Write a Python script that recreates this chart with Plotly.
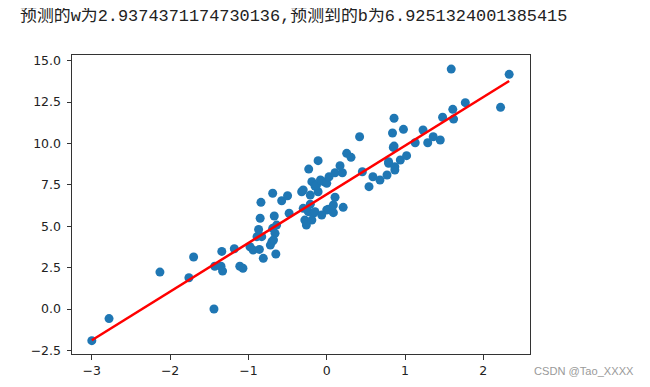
import plotly.graph_objects as go

# Fitted parameters (shown in the title)
w = 2.9374371174730136
b = 6.9251324001385415

# Scatter data
x_data = [-3.0, -2.78, -2.13, -1.76, -1.70, -1.44, -1.43, -1.35, -1.33, -1.34,
          -1.18, -1.11, -1.07, -0.98, -0.94, -0.86, -0.81, -0.65, -0.72, -0.70,
          -0.66, -0.89, -0.83, -0.87, -0.69, -0.68, -0.85, -0.67, -0.84, -0.69,
          -0.575, -0.50, -0.48, -0.64,
          -0.32, -0.30, -0.30, -0.235, -0.28, -0.26, -0.23, -0.11, -0.19, -0.15,
          -0.04, -0.11, -0.21, -0.21, -0.17, -0.19, -0.15, 0.0, 0.02, -0.064,
          0.085, 0.085, 0.106, 0.21, -0.13, -0.08, 0.0, 0.03, 0.106, 0.20,
          0.17, 0.255, 0.31, 0.42, 0.455, 0.54, 0.59, 0.68, 0.77, 0.79,
          0.87, 0.79, 0.87, 0.94, 1.02, 0.85, 0.86, 0.84, 0.86, 0.98,
          1.13, 1.23, 1.29, 1.36, 1.45, 1.48, 1.61, 1.62, 1.59, 1.77,
          2.22, 2.33]
y_data = [-1.91, -0.58, 2.23, 1.89, 3.14, 0.0, 2.58, 2.58, 2.29, 3.48,
          3.64, 2.58, 2.46, 3.76, 3.56, 3.6, 3.06, 3.32, 3.86, 4.06,
          4.57, 4.37, 4.37, 4.8, 4.87, 4.17, 5.48, 5.62, 6.44, 6.99,
          6.54, 6.84, 5.78, 5.07,
          7.08, 7.19, 6.08, 5.88, 5.37, 5.07, 8.45, 8.96, 7.69, 7.43,
          7.69, 7.08, 6.88, 6.33, 5.78, 5.37, 5.88, 5.98, 6.02, 5.68,
          5.82, 6.28, 6.75, 6.14, 7.49, 7.79, 7.59, 7.99, 8.23, 8.23,
          8.65, 9.40, 9.16, 10.40, 8.29, 7.39, 7.99, 7.79, 8.09, 8.80,
          8.39, 8.90, 8.59, 9.0, 9.26, 9.76, 9.84, 10.63, 11.52, 10.85,
          10.04, 10.81, 10.04, 10.40, 10.21, 11.58, 12.06, 11.47, 14.49, 12.46,
          12.18, 14.17]

x_ticks = [-3, -2, -1, 0, 1, 2]
x_tick_text = ["\u22123", "\u22122", "\u22121", "0", "1", "2"]
y_ticks = [-2.5, 0.0, 2.5, 5.0, 7.5, 10.0, 12.5, 15.0]
y_tick_text = ["\u22122.5", "0.0", "2.5", "5.0", "7.5", "10.0", "12.5", "15.0"]

title_text = "预测的w为2.9374371174730136,预测到的b为6.9251324001385415"
watermark = "CSDN @Tao_XXXX"

x_line = sorted(x_data)
y_line = [w * v + b for v in x_line]

fig = go.Figure()
fig.add_trace(go.Scatter(
    x=x_data, y=y_data, mode="markers",
    marker=dict(color="#1f77b4", size=9, line=dict(width=0)),
    showlegend=False, hoverinfo="skip"))
fig.add_trace(go.Scatter(
    x=x_line, y=y_line, mode="lines",
    line=dict(color="#ff0000", width=2.5),
    showlegend=False, hoverinfo="skip"))

axis_common = dict(
    showline=True, mirror=True, linecolor="#333333", linewidth=1,
    ticks="outside", ticklen=4.5, tickwidth=1, tickcolor="#333333",
    showgrid=False, zeroline=False,
    tickfont=dict(family="DejaVu Sans", size=12.5, color="#222222"),
)

# plot area in figure coordinates (page body adds 8px offset)
L, T, W, H = 64, 47, 458, 299

fig.update_layout(
    width=650, height=387,
    margin=dict(l=L, r=650 - L - W, t=T, b=387 - T - H),
    paper_bgcolor="white", plot_bgcolor="white",
    xaxis=dict(range=[-3.253, 2.596], tickvals=x_ticks, ticktext=x_tick_text,
               **axis_common),
    yaxis=dict(range=[-2.717, 15.34], tickvals=y_ticks, ticktext=y_tick_text,
               ticklabelstandoff=3, **axis_common),
    annotations=[
        dict(text=title_text, xref="paper", yref="paper",
             x=(10 - L) / W, y=(T + H - 8) / H,
             xanchor="left", yanchor="middle", showarrow=False,
             font=dict(family="Liberation Mono, Noto Sans CJK SC", size=16.9,
                       color="#222222")),
        dict(text=watermark, xref="paper", yref="paper",
             x=(628 - L) / W, y=(T + H - 363) / H,
             xanchor="right", yanchor="middle", showarrow=False,
             font=dict(family="Liberation Sans", size=11.1, color="#9a9a9a")),
    ],
)

fig.write_html("out.html")
